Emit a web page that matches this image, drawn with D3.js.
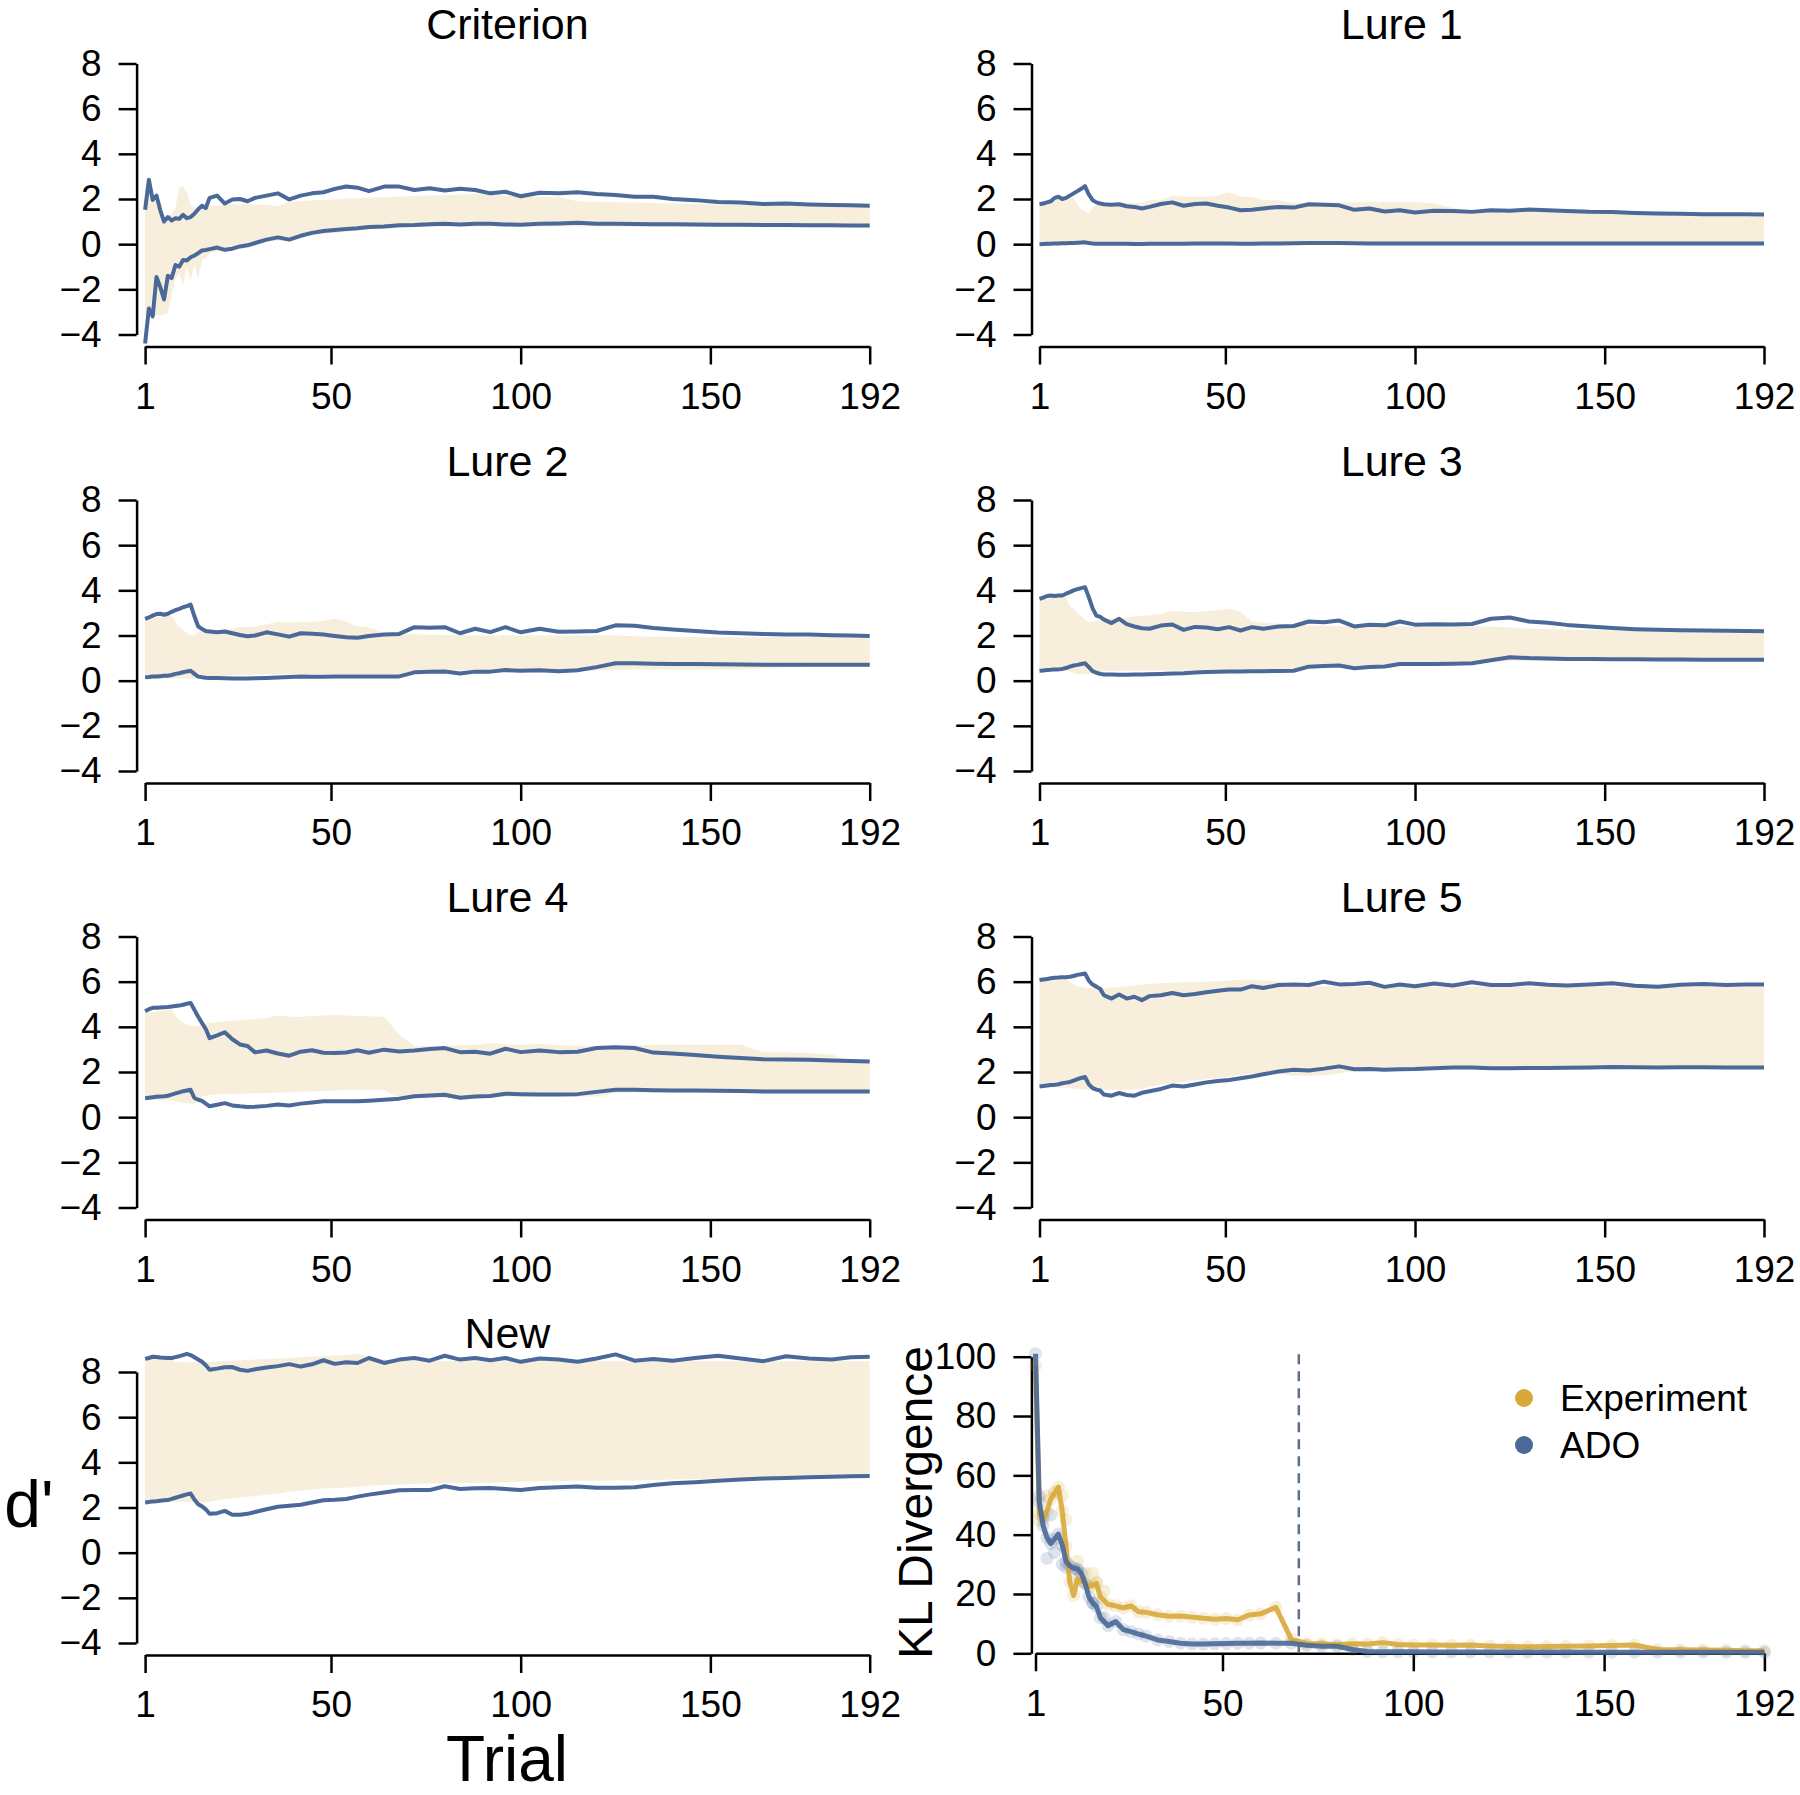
<!DOCTYPE html>
<html><head><meta charset="utf-8">
<script src="https://cdn.jsdelivr.net/npm/d3@7"></script>
<style>body{margin:0;background:#fff} svg{display:block} text{font-family:"Liberation Sans",Arial,Helvetica,sans-serif}</style>
</head><body><svg id="c" width="1800" height="1795"></svg>
<script>
// ---------- DATA ----------
const trials = [1,2,3,4,5,6,7,8,9,10, 11,12,13,14,15,16,17,18, 20,22,24,26,28,30,
  33,36,39,42,45,48,51,54,57,60, 64,68,72,76,80,84,88,92,96,100,
  105,110,115,120,125,130,135,140, 146,152,158,164,170,176,182,187,192];
const xTicks = [1,50,100,150,192];
const yTicks = [-4,-2,0,2,4,6,8];
const klTicks = [0,20,40,60,80,100];

// Criterion
const critHi = [1.52,2.85,1.96,2.15,1.5,1.0,1.2,1.05,1.15,1.12, 1.3,1.15,1.2,1.35,1.55,1.7,1.6,2.05, 2.15,1.8,1.98,2.0,1.9,2.05,
  2.15,2.25,1.98,2.15,2.25,2.3,2.45,2.55,2.5,2.35, 2.55,2.55,2.4,2.48,2.38,2.45,2.4,2.25,2.32,2.12,
  2.28,2.26,2.3,2.22,2.18,2.1,2.1,2.0, 1.95,1.87,1.85,1.78,1.8,1.76,1.73,1.72,1.7];
const critLo = [-4.4,-2.85,-3.2,-1.45,-1.9,-2.45,-1.4,-1.5,-0.92,-1.0, -0.7,-0.72,-0.58,-0.5,-0.4,-0.28,-0.26,-0.22, -0.15,-0.25,-0.2,-0.1,-0.05,0.05,
  0.2,0.3,0.2,0.37,0.5,0.58,0.63,0.67,0.7,0.76, 0.78,0.84,0.85,0.88,0.9,0.87,0.9,0.9,0.87,0.86,
  0.9,0.92,0.95,0.9,0.9,0.89,0.88,0.88, 0.87,0.86,0.86,0.85,0.85,0.84,0.84,0.83,0.83];
const critBandHi = [2.45,2.4,2.2,1.7,1.3,1.15,1.25,1.35,1.6,2.5, 2.55,2.3,1.75,1.6,1.55,1.65,1.75,1.7, 1.7,1.72,1.78,1.75,1.8,1.76,
  1.75,1.68,1.88,1.9,1.95,1.96,1.98,2.02,2.03,2.05, 2.08,2.1,2.13,2.15,2.17,2.2,2.22,2.2,2.15,2.1,
  2.1,2.08,1.9,1.88,1.86,1.84,1.82,1.8, 1.78,1.76,1.74,1.72,1.7,1.68,1.67,1.66,1.65];
const critBandLo = [-3.1,-3.1,-3.1,-3.15,-3.15,-3.1,-3.05,-2.2,-1.5,-1.3, -1.8,-1.0,-1.6,-0.9,-1.5,-0.7,-0.6,-0.4, -0.3,-0.3,-0.25,-0.15,-0.1,-0.05,
  0.1,0.15,0.15,0.3,0.4,0.45,0.5,0.55,0.6,0.65, 0.68,0.72,0.75,0.77,0.78,0.78,0.78,0.78,0.78,0.78,
  0.78,0.78,0.78,0.78,0.77,0.77,0.77,0.77, 0.76,0.76,0.76,0.76,0.75,0.75,0.75,0.75,0.75];

// Lure 1
const lure1Hi = [1.77,1.8,1.85,1.9,2.05,2.1,2.0,2.05,2.15,2.25, 2.35,2.45,2.57,2.2,1.95,1.85,1.8,1.77, 1.75,1.77,1.68,1.65,1.58,1.65,
  1.78,1.85,1.7,1.78,1.8,1.7,1.62,1.5,1.52,1.58, 1.65,1.62,1.77,1.75,1.72,1.52,1.58,1.45,1.5,1.4,
  1.48,1.47,1.43,1.5,1.48,1.53,1.5,1.47, 1.43,1.42,1.38,1.36,1.35,1.33,1.33,1.32,1.31];
const lure1Lo = [0.0,0.01,0.02,0.02,0.03,0.03,0.04,0.04,0.05,0.05, 0.06,0.07,0.08,0.05,0.03,0.02,0.02,0.02, 0.02,0.02,0.02,0.01,0.01,0.02,
  0.02,0.02,0.02,0.03,0.03,0.03,0.03,0.02,0.02,0.03, 0.03,0.04,0.05,0.05,0.05,0.04,0.03,0.03,0.03,0.03,
  0.03,0.03,0.03,0.03,0.03,0.03,0.03,0.03, 0.03,0.03,0.03,0.03,0.03,0.03,0.03,0.03,0.03];
const lure1BandHi = [1.7,1.78,1.82,1.85,1.95,2.0,1.95,2.0,2.05,2.05, 1.75,1.55,1.45,1.38,1.62,1.72,1.75,1.78, 1.8,1.8,1.82,1.82,1.85,1.95,
  1.95,2.15,2.1,2.1,2.1,2.15,2.3,2.1,2.1,1.95, 1.95,1.82,1.82,1.85,1.85,1.85,1.87,1.87,1.87,1.87,
  1.8,1.6,1.5,1.48,1.47,1.47,1.45,1.43, 1.4,1.38,1.35,1.33,1.32,1.3,1.29,1.28,1.28];
const lure1BandLo = [0.05,0.06,0.07,0.07,0.08,0.08,0.09,0.09,0.1,0.1, 0.11,0.12,0.13,0.1,0.08,0.08,0.08,0.08, 0.08,0.08,0.08,0.08,0.08,0.08,
  0.08,0.08,0.08,0.08,0.08,0.08,0.08,0.08,0.08,0.08, 0.09,0.1,0.1,0.1,0.1,0.09,0.08,0.08,0.08,0.08,
  0.08,0.08,0.08,0.08,0.08,0.08,0.08,0.08, 0.08,0.08,0.08,0.08,0.08,0.08,0.08,0.08,0.08];

// Lure 2
const lure2Hi = [2.74,2.8,2.88,2.95,2.96,2.92,2.96,3.05,3.12,3.18, 3.25,3.3,3.37,2.85,2.4,2.29,2.2,2.18, 2.14,2.18,2.1,2.02,1.97,2.0,
  2.14,2.05,1.95,2.1,2.08,2.04,1.98,1.92,1.9,1.98, 2.04,2.07,2.37,2.34,2.37,2.1,2.3,2.15,2.37,2.14,
  2.3,2.17,2.18,2.2,2.45,2.43,2.33,2.27, 2.2,2.13,2.1,2.07,2.04,2.04,2.01,2.0,1.98];
const lure2Lo = [0.15,0.16,0.18,0.18,0.2,0.22,0.22,0.25,0.3,0.33, 0.37,0.41,0.44,0.3,0.18,0.15,0.13,0.12, 0.12,0.11,0.1,0.1,0.1,0.11,
  0.12,0.14,0.16,0.18,0.17,0.17,0.18,0.18,0.18,0.18, 0.18,0.19,0.37,0.39,0.41,0.32,0.4,0.4,0.47,0.44,
  0.46,0.42,0.46,0.6,0.77,0.77,0.75,0.74, 0.74,0.73,0.72,0.71,0.71,0.71,0.71,0.71,0.71];
const lure2BandHi = [2.66,2.7,2.75,2.8,2.82,2.85,2.87,2.88,2.6,2.37, 2.25,2.1,2.02,2.0,2.15,2.18,2.2,2.2, 2.2,2.25,2.3,2.37,2.38,2.4,
  2.5,2.6,2.58,2.6,2.6,2.65,2.75,2.62,2.4,2.37, 2.1,2.05,2.05,2.03,2.02,2.02,2.0,2.0,2.0,2.0,
  2.0,2.0,2.0,2.0,2.0,1.97,1.95,1.93, 1.92,1.92,1.92,1.92,1.92,1.92,1.92,1.92,1.92];
const lure2BandLo = [0.1,0.1,0.1,0.1,0.1,0.1,0.1,0.1,0.1,0.1, 0.1,0.1,0.1,0.1,0.1,0.12,0.15,0.18, 0.2,0.22,0.24,0.25,0.26,0.27,
  0.28,0.28,0.28,0.3,0.3,0.3,0.3,0.3,0.3,0.3, 0.3,0.3,0.45,0.45,0.45,0.45,0.45,0.45,0.45,0.45,
  0.45,0.45,0.45,0.45,0.5,0.5,0.5,0.5, 0.5,0.5,0.5,0.55,0.58,0.6,0.62,0.65,0.67];

// Lure 3
const lure3Hi = [3.62,3.68,3.75,3.77,3.75,3.77,3.77,3.85,3.92,4.0, 4.05,4.1,4.14,3.7,3.2,2.88,2.82,2.7, 2.55,2.74,2.5,2.4,2.32,2.3,
  2.44,2.49,2.25,2.38,2.35,2.28,2.37,2.22,2.37,2.3, 2.4,2.42,2.62,2.59,2.66,2.4,2.48,2.45,2.62,2.48,
  2.5,2.49,2.51,2.74,2.8,2.62,2.56,2.47, 2.4,2.33,2.28,2.25,2.23,2.22,2.21,2.2,2.19];
const lure3Lo = [0.44,0.45,0.47,0.48,0.5,0.5,0.52,0.56,0.62,0.67, 0.7,0.74,0.77,0.6,0.42,0.35,0.3,0.27, 0.27,0.26,0.26,0.27,0.27,0.28,
  0.3,0.32,0.33,0.36,0.38,0.4,0.41,0.41,0.42,0.42, 0.43,0.44,0.62,0.65,0.67,0.55,0.6,0.63,0.74,0.74,
  0.74,0.75,0.77,0.9,1.04,1.0,0.98,0.96, 0.96,0.95,0.95,0.94,0.94,0.93,0.93,0.93,0.93];
const lure3BandHi = [3.55,3.6,3.62,3.65,3.67,3.68,3.7,3.7,3.3,3.18, 3.0,2.85,2.7,2.6,2.62,2.65,2.7,2.74, 2.76,2.78,2.8,2.84,2.88,2.9,
  2.95,3.1,3.05,3.03,3.08,3.12,3.18,3.05,2.62,2.56, 2.52,2.45,2.44,2.43,2.42,2.4,2.4,2.4,2.4,2.4,
  2.4,2.4,2.4,2.4,2.35,2.3,2.28,2.26, 2.25,2.22,2.2,2.17,2.15,2.13,2.12,2.1,2.1];
const lure3BandLo = [0.44,0.44,0.44,0.44,0.45,0.45,0.46,0.46,0.4,0.35, 0.3,0.3,0.3,0.3,0.32,0.36,0.4,0.42, 0.44,0.44,0.45,0.45,0.45,0.45,
  0.45,0.45,0.45,0.45,0.45,0.45,0.45,0.45,0.45,0.45, 0.45,0.46,0.65,0.67,0.67,0.67,0.67,0.67,0.67,0.68,
  0.68,0.68,0.7,0.85,0.87,0.87,0.87,0.87, 0.87,0.87,0.88,0.88,0.88,0.89,0.89,0.9,0.9];

// Lure 4
const lure4Hi = [4.69,4.78,4.84,4.85,4.86,4.87,4.88,4.9,4.92,4.94, 4.98,5.02,5.06,4.75,4.45,4.17,3.9,3.5, 3.62,3.76,3.45,3.22,3.15,2.87,
  2.95,2.82,2.72,2.9,2.96,2.85,2.84,2.86,2.96,2.85, 2.99,2.91,2.95,3.02,3.06,2.88,2.9,2.81,3.03,2.88,
  2.95,2.88,2.9,3.06,3.1,3.06,2.86,2.82, 2.75,2.68,2.62,2.57,2.55,2.54,2.51,2.49,2.47];
const lure4Lo = [0.84,0.86,0.88,0.9,0.92,0.93,0.95,1.0,1.05,1.1, 1.15,1.18,1.21,0.85,0.77,0.72,0.6,0.48, 0.55,0.62,0.52,0.48,0.45,0.46,
  0.5,0.56,0.52,0.6,0.65,0.7,0.7,0.7,0.7,0.73, 0.77,0.82,0.93,0.96,0.99,0.86,0.92,0.94,1.04,1.02,
  1.0,1.0,1.02,1.12,1.21,1.21,1.19,1.18, 1.18,1.17,1.16,1.14,1.14,1.14,1.14,1.14,1.14];
const lure4BandHi = [4.6,4.62,4.65,4.67,4.7,4.72,4.74,4.76,4.5,4.3, 4.2,4.1,4.05,4.02,4.05,4.1,4.15,4.17, 4.2,4.25,4.27,4.3,4.32,4.35,
  4.4,4.5,4.45,4.44,4.48,4.5,4.54,4.5,4.48,4.46, 4.45,3.65,3.14,3.14,3.14,3.18,3.2,3.28,3.22,3.21,
  3.24,3.18,3.16,3.14,3.14,3.17,3.2,3.21, 3.21,3.21,3.21,2.87,2.87,2.84,2.77,2.45,2.4];
const lure4BandLo = [0.84,0.78,0.75,0.75,0.75,0.75,0.75,0.75,0.7,0.66, 0.64,0.62,0.6,0.58,0.75,0.9,0.95,0.98, 1.0,1.02,1.03,1.04,1.05,1.06,
  1.07,1.08,1.1,1.12,1.14,1.16,1.18,1.2,1.2,1.2, 1.2,0.84,0.84,0.84,0.84,0.88,0.92,0.92,0.92,0.92,
  0.92,0.92,0.92,0.92,1.08,1.09,1.09,1.09, 1.09,1.09,1.09,1.09,1.09,1.09,1.09,1.09,1.09];

// Lure 5
const lure5Hi = [6.07,6.1,6.12,6.15,6.17,6.18,6.2,6.2,6.22,6.25, 6.3,6.33,6.36,6.05,5.87,5.78,5.68,5.4, 5.25,5.43,5.25,5.33,5.18,5.36,
  5.4,5.5,5.4,5.45,5.53,5.6,5.65,5.65,5.8,5.72, 5.85,5.87,5.85,6.0,5.88,5.9,5.95,5.77,5.87,5.8,
  5.92,5.83,5.97,5.85,5.85,5.93,5.86,5.83, 5.87,5.93,5.82,5.78,5.86,5.9,5.85,5.88,5.87];
const lure5Lo = [1.36,1.38,1.4,1.42,1.43,1.46,1.5,1.53,1.56,1.62, 1.68,1.74,1.78,1.45,1.29,1.22,1.18,1.0, 0.95,1.07,0.98,0.95,1.08,1.15,
  1.25,1.4,1.36,1.45,1.54,1.6,1.65,1.72,1.8,1.9, 2.02,2.1,2.07,2.15,2.25,2.12,2.13,2.1,2.12,2.13,
  2.17,2.2,2.2,2.17,2.17,2.18,2.18,2.19, 2.2,2.22,2.21,2.2,2.21,2.21,2.2,2.2,2.2];
const lure5BandHi = [6.0,6.02,6.04,6.05,6.06,6.08,6.09,6.1,6.0,5.87, 5.8,5.75,5.72,5.72,5.72,5.72,5.72,5.72, 5.74,5.76,5.8,5.83,5.86,5.9,
  5.93,5.95,5.97,5.99,6.0,6.02,6.05,6.08,6.08,6.05, 6.0,5.82,5.8,5.8,5.79,5.79,5.8,5.78,5.79,5.78,
  5.78,5.79,5.78,5.78,5.77,5.78,5.77,5.77, 5.77,5.77,5.76,5.76,5.76,5.77,5.76,5.76,5.76];
const lure5BandLo = [1.43,1.38,1.35,1.33,1.32,1.31,1.3,1.3,1.28,1.26, 1.25,1.24,1.24,1.23,1.22,1.22,1.22,1.22, 1.21,1.21,1.21,1.22,1.25,1.35,
  1.45,1.5,1.56,1.62,1.68,1.73,1.8,1.87,1.93,1.95, 1.9,1.85,1.83,1.85,1.95,2.03,2.05,2.05,2.1,2.12,
  2.13,2.14,2.14,2.15,2.15,2.15,2.16,2.16, 2.16,2.17,2.17,2.17,2.17,2.17,2.17,2.17,2.17];

// New
const newHi = [8.58,8.62,8.68,8.66,8.64,8.63,8.62,8.62,8.66,8.7, 8.75,8.8,8.75,8.65,8.55,8.45,8.3,8.1, 8.15,8.21,8.22,8.1,8.05,8.12,
  8.2,8.26,8.35,8.24,8.34,8.52,8.36,8.43,8.4,8.62, 8.4,8.55,8.62,8.5,8.72,8.55,8.62,8.52,8.62,8.45,
  8.6,8.55,8.45,8.6,8.78,8.5,8.58,8.5, 8.62,8.72,8.6,8.48,8.7,8.6,8.55,8.65,8.68];
const newLo = [2.22,2.24,2.27,2.28,2.3,2.32,2.33,2.38,2.43,2.48, 2.53,2.58,2.62,2.35,2.14,2.05,1.92,1.72, 1.75,1.85,1.68,1.68,1.72,1.8,
  1.92,2.03,2.08,2.12,2.22,2.32,2.34,2.38,2.48,2.57, 2.66,2.76,2.77,2.77,2.94,2.82,2.85,2.86,2.82,2.78,
  2.86,2.9,2.93,2.87,2.87,2.9,3.0,3.07, 3.12,3.18,3.24,3.28,3.31,3.34,3.36,3.38,3.4];
const newBandHi = [8.58,8.58,8.6,8.6,8.6,8.6,8.6,8.58,8.45,8.43, 8.43,8.43,8.43,8.43,8.43,8.43,8.43,8.43, 8.46,8.5,8.5,8.52,8.53,8.55,
  8.58,8.6,8.62,8.65,8.68,8.7,8.73,8.75,8.8,8.7, 8.55,8.5,8.48,8.48,8.48,8.48,8.48,8.48,8.48,8.48,
  8.48,8.48,8.48,8.48,8.48,8.48,8.48,8.48, 8.48,8.48,8.48,8.48,8.48,8.48,8.48,8.48,8.48];
const newBandLo = [2.29,2.27,2.26,2.25,2.25,2.25,2.25,2.25,2.25,2.25, 2.25,2.25,2.25,2.22,2.22,2.22,2.22,2.25, 2.32,2.36,2.4,2.44,2.48,2.51,
  2.56,2.62,2.7,2.74,2.8,2.84,2.87,2.88,2.92,2.96, 3.0,3.02,3.04,3.06,3.07,3.08,3.09,3.1,3.12,3.14,
  3.16,3.17,3.18,3.19,3.2,3.2,3.22,3.24, 3.26,3.28,3.31,3.33,3.36,3.39,3.41,3.43,3.45];

// KL divergence
const klExperiment = [97,47,45,48,52,54,56,48,36,24, 19.5,25,24.5,23.6,22.5,23,23.5,19, 16.5,16,15.3,16,14,13.8,
  13,12.5,12.6,12.2,11.8,11.5,11.7,11.3,12.9,13.3, 15.5,4.8,3.3,3.2,2.9,3.2,3.1,3.6,3.0,2.8,
  2.8,2.7,2.8,2.5,2.3,2.2,2.3,2.4, 2.5,2.6,2.8,1.3,1.2,1.1,1.0,0.9,0.9];
const klADO = [101,51,43,39,37,38.5,40.2,36.5,31,29.5, 28.7,28.5,27,23.6,19,17,15.7,12, 9.3,10.7,8,7.3,6.5,5.8,
  4.5,4.0,3.4,3.1,3.1,3.2,3.3,3.4,3.4,3.5, 3.4,3.4,2.7,2.4,2.4,1.3,0.6,0.55,0.5,0.5,
  0.45,0.45,0.45,0.4,0.4,0.4,0.4,0.4, 0.38,0.38,0.37,0.37,0.36,0.36,0.35,0.35,0.35];
const klExpExtraT = [2,4,6,8,9,12,14,16,17,19];
const klExpExtraV = [45,53,54.5,53,45,31,27,27,24,21];
const klAdoExtraT = [2,3,4,5,6,8,9,12,16,19];
const klAdoExtraV = [53,46,32,46.6,34,30,29,28,17,12];
const klCutoff = 70;
const legendLabels = ["Experiment","ADO"];

// ---------- DRAW ----------
const BLUE = "#4a6898", GOLD = "#d8a83a", BEIGE = "#f7eedb", DASH = "#5f6f85";
const FONT = '"Liberation Sans", Arial, Helvetica, sans-serif';
const TICKFS = 37;
const svg = d3.select("#c");
const cols = [{ax:136.6, x0:145.1, x1:869.7}, {ax:1031.5, x0:1039.5, x1:1764}];
const rowTop = [63.5, 500, 936.5, 1372];
const PH = 271;

const panels = [
  {title:"Criterion", col:0, row:0, bh:critBandHi, bl:critBandLo, hi:critHi, lo:critLo},
  {title:"Lure 1", col:1, row:0, bh:lure1BandHi, bl:lure1BandLo, hi:lure1Hi, lo:lure1Lo},
  {title:"Lure 2", col:0, row:1, bh:lure2BandHi, bl:lure2BandLo, hi:lure2Hi, lo:lure2Lo},
  {title:"Lure 3", col:1, row:1, bh:lure3BandHi, bl:lure3BandLo, hi:lure3Hi, lo:lure3Lo},
  {title:"Lure 4", col:0, row:2, bh:lure4BandHi, bl:lure4BandLo, hi:lure4Hi, lo:lure4Lo},
  {title:"Lure 5", col:1, row:2, bh:lure5BandHi, bl:lure5BandLo, hi:lure5Hi, lo:lure5Lo},
  {title:"New", col:0, row:3, bh:newBandHi, bl:newBandLo, hi:newHi, lo:newLo}
];

function styleAxis(g, fs) {
  g.attr("font-size", fs).attr("font-family", FONT);
  g.selectAll("path, line").attr("stroke", "#000").attr("stroke-width", 2.5);
  g.selectAll("text").attr("fill", "#000");
}

panels.forEach(p => {
  const c = cols[p.col], top = rowTop[p.row];
  const x = d3.scaleLinear().domain([1,192]).range([c.x0, c.x1]);
  const y = d3.scaleLinear().domain([-4,8]).range([top + PH, top]);
  const g = svg.append("g");
  const data = trials.map((t,i) => ({t, bh:p.bh[i], bl:p.bl[i], hi:p.hi[i], lo:p.lo[i]}));
  g.append("path").datum(data).attr("fill", BEIGE)
    .attr("d", d3.area().x(d => x(d.t)).y0(d => y(d.bl)).y1(d => y(d.bh)));
  ["hi","lo"].forEach(k => {
    g.append("path").datum(data).attr("fill","none").attr("stroke", BLUE)
      .attr("stroke-width", 4).attr("stroke-linejoin","round")
      .attr("d", d3.line().x(d => x(d.t)).y(d => y(d[k])));
  });
  const ya = g.append("g").attr("transform", `translate(${c.ax},0)`)
    .call(d3.axisLeft(y).tickValues(yTicks).tickSize(18).tickPadding(17).tickSizeOuter(0));
  styleAxis(ya, TICKFS);
  const xa = g.append("g").attr("transform", `translate(0,${top + PH + 12})`)
    .call(d3.axisBottom(x).tickValues(xTicks).tickFormat(d3.format("d")).tickSize(18).tickPadding(18).tickSizeOuter(0));
  styleAxis(xa, TICKFS);
  g.append("text").attr("x", (c.x0 + c.x1)/2).attr("y", top - 24.5)
    .attr("text-anchor","middle").attr("font-size", 43).attr("font-family", FONT).text(p.title);
});

// KL panel
(function(){
  const x = d3.scaleLinear().domain([1,192]).range([1035.5, 1764.4]);
  const y = d3.scaleLinear().domain([0,100]).range([1653.3, 1356.7]);
  const g = svg.append("g");
  const ya = g.append("g").attr("transform","translate(1031.4,0)")
    .call(d3.axisLeft(y).tickValues(klTicks).tickSize(18).tickPadding(17).tickSizeOuter(0));
  styleAxis(ya, TICKFS);
  const xa = g.append("g").attr("transform", `translate(0,${y(0)})`)
    .call(d3.axisBottom(x).tickValues(xTicks).tickFormat(d3.format("d")).tickSize(18).tickPadding(18).tickSizeOuter(0));
  styleAxis(xa, TICKFS);

  const series = [
    {v:klExperiment, color:GOLD, et:klExpExtraT, ev:klExpExtraV},
    {v:klADO, color:BLUE, et:klAdoExtraT, ev:klAdoExtraV}
  ];
  series.forEach(s => {
    const pts = trials.map((t,i) => [t, s.v[i]]).concat(s.et.map((t,i) => [t, s.ev[i]]));
    g.append("g").selectAll("circle").data(pts).join("circle")
      .attr("cx", d => x(d[0])).attr("cy", d => y(d[1])).attr("r", 6.5)
      .attr("fill", s.color).attr("opacity", 0.18);
  });
  series.forEach(s => {
    g.append("path").datum(trials.map((t,i)=>[t, s.v[i]]))
      .attr("fill","none").attr("stroke", s.color).attr("stroke-width", 5)
      .attr("stroke-linejoin","round").attr("opacity", 0.9)
      .attr("d", d3.line().x(d => x(d[0])).y(d => y(d[1])));
  });
  g.append("line").attr("x1", x(klCutoff)).attr("x2", x(klCutoff))
    .attr("y1", y(0)).attr("y2", y(102))
    .attr("stroke", DASH).attr("stroke-width", 2.5).attr("stroke-dasharray","10,7");

  g.append("text").attr("transform", "translate(932,1502.5) rotate(-90)")
    .attr("text-anchor","middle").attr("font-size", 48).attr("font-family", FONT).text("KL Divergence");

  const lg = [{c:GOLD, y:1398}, {c:BLUE, y:1445}];
  lg.forEach((l,i) => {
    g.append("circle").attr("cx",1524).attr("cy",l.y).attr("r",9).attr("fill",l.c);
    g.append("text").attr("x",1560).attr("y",l.y + 13).attr("font-size",37)
      .attr("font-family",FONT).text(legendLabels[i]);
  });
})();

svg.append("text").attr("x", 29).attr("y", 1527).attr("text-anchor","middle")
  .attr("font-size", 66).attr("font-family", FONT).text("d'");
svg.append("text").attr("x", 507).attr("y", 1781).attr("text-anchor","middle")
  .attr("font-size", 64).attr("font-family", FONT).text("Trial");
</script></body></html>
